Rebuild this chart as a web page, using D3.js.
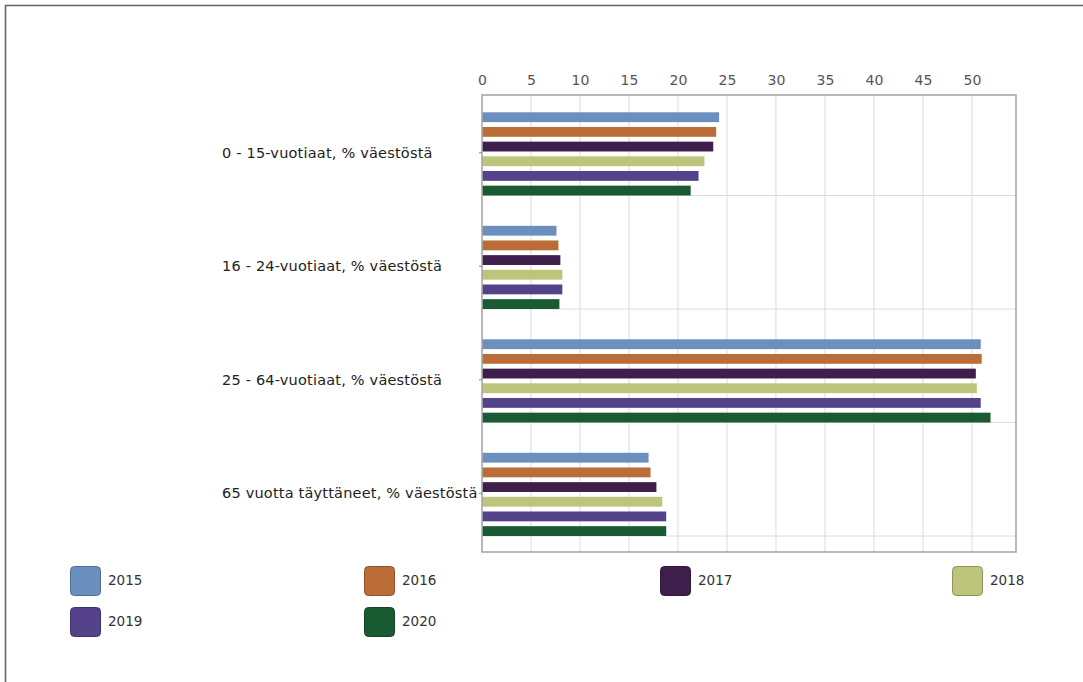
<!DOCTYPE html>
<html><head><meta charset="utf-8">
<script src="https://cdn.jsdelivr.net/npm/d3@7"></script>
<style>body{margin:0;background:#fff;} svg{display:block;}</style>
</head><body>
<svg id="c" width="1083" height="682"></svg>
<script>
const categories = ["0 - 15-vuotiaat, % väestöstä","16 - 24-vuotiaat, % väestöstä","25 - 64-vuotiaat, % väestöstä","65 vuotta täyttäneet, % väestöstä"];
const years = ["2015","2016","2017","2018","2019","2020"];
const v2015 = [24.2, 7.6, 50.9, 17.0];
const v2016 = [23.9, 7.8, 51.0, 17.2];
const v2017 = [23.6, 8.0, 50.4, 17.8];
const v2018 = [22.7, 8.2, 50.5, 18.4];
const v2019 = [22.1, 8.2, 50.9, 18.8];
const v2020 = [21.3, 7.9, 51.9, 18.8];
const xTicks = [0,5,10,15,20,25,30,35,40,45,50];
const colors = ["#6b8fbe","#bb6d37","#3e1f4b","#bdc47b","#54438b","#1a5a33"];
const series = [v2015,v2016,v2017,v2018,v2019,v2020];

const svg = d3.select("#c");
const font = "'DejaVu Sans', Verdana, sans-serif";
// outer frame
svg.append("path").attr("d","M5.5,682 V5.5 H1083").attr("fill","none").attr("stroke","#666").attr("stroke-width",1.6);

const L=482, R=1016, T=95, B=552;
const x = d3.scaleLinear().domain([0,54.5]).range([L,R]);
const y = d3.scaleBand().domain(categories).range([T-1,548]);
const yi = d3.scaleBand().domain(years).range([18.3,101.5]).paddingInner(0.33);

// vertical gridlines
svg.append("g").selectAll("line").data(xTicks.slice(1)).join("line")
  .attr("x1",d=>x(d)).attr("x2",d=>x(d)).attr("y1",T).attr("y2",B)
  .attr("stroke","#dcdcdc").attr("stroke-width",1);
// horizontal gridlines
svg.append("g").selectAll("line").data(categories).join("line")
  .attr("x1",L).attr("x2",R).attr("y1",d=>y(d)+101.5).attr("y2",d=>y(d)+101.5)
  .attr("stroke","#dcdcdc").attr("stroke-width",1);

// bars
categories.forEach((c,ci)=>{
  svg.append("g").selectAll("rect").data(years).join("rect")
    .attr("x",L).attr("y",(yr)=>y(c)+yi(yr))
    .attr("width",(yr,i)=>x(series[i][ci])-L)
    .attr("height",yi.bandwidth())
    .attr("fill",(yr,i)=>colors[i]);
});

// frame
svg.append("rect").attr("x",L).attr("y",T).attr("width",R-L).attr("height",B-T)
  .attr("fill","none").attr("stroke","#a8a8a8").attr("stroke-width",1.6);

// top axis
const xa = d3.axisTop(x).tickValues(xTicks).tickSize(0).tickPadding(0);
const gx = svg.append("g").attr("transform",`translate(0,${T-10})`).call(xa);
gx.select(".domain").remove();
gx.selectAll("text").attr("font-family",font).attr("font-size",14).attr("fill","#555").attr("dy",0);

// left axis labels + small ticks
const ya = d3.axisLeft(y).tickSize(3).tickPadding(0);
const gy = svg.append("g").attr("transform",`translate(${L},0)`).call(ya);
gy.select(".domain").remove();
gy.selectAll("line").attr("stroke","#888");
gy.selectAll(".tick").attr("transform",d=>`translate(0,${y(d)+y.bandwidth()/2+2})`);
gy.selectAll("text").attr("text-anchor","start").attr("x",222-L).attr("dy","0.35em")
  .attr("font-family",font).attr("font-size",14.5).attr("letter-spacing",0.2).attr("fill","#222");

// legend
const legX = [70,364,660,952];
const lg = svg.append("g");
years.forEach((yr,i)=>{
  const col = i%4, row = Math.floor(i/4);
  const gx0 = legX[col], gy0 = 566 + row*41;
  lg.append("rect").attr("x",gx0+0.5).attr("y",gy0+0.5).attr("width",30).attr("height",29).attr("rx",4)
    .attr("fill",colors[i]).attr("stroke",d3.color(colors[i]).darker(0.8)).attr("stroke-width",1);
  lg.append("text").attr("x",gx0+38).attr("y",gy0+14).attr("dy","0.35em")
    .attr("font-family",font).attr("font-size",13.5).attr("fill","#333").text(yr);
});
</script>
</body></html>
